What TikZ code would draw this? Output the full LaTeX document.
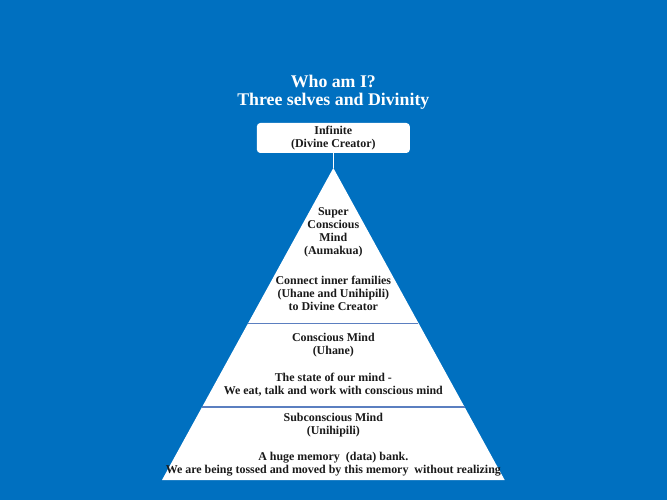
\documentclass[tikz,border=0pt]{standalone}
\usepackage{fontspec}
\setmainfont{Liberation Serif}
\usetikzlibrary{positioning,calc}
\definecolor{SlideBlue}{HTML}{0070C0}
\definecolor{LayerLine}{HTML}{5B7FC0}
\definecolor{InkDark}{HTML}{1A1A1A}

\begin{document}
\begin{tikzpicture}[
    font=\bfseries\fontsize{10.2}{11.1}\selectfont,
    label/.style={text=InkDark, align=center, inner sep=1pt},
    divider/.style={draw=LayerLine, line width=0.9pt}
]

  % =========================================================================
  % FUNDO
  % =========================================================================
  \fill[SlideBlue] (0,0) rectangle (20.01,15);
  \useasboundingbox (0,0) rectangle (20.01,15);

  % =========================================================================
  % TITULO
  % =========================================================================
  \node[text=white, align=center, font=\bfseries\fontsize{15.2}{15.4}\selectfont] (n_title) at (10.0, 12.24) {Who am I?\\Three selves and Divinity};

  % Caixa superior
  \node[fill=white, rounded corners=3pt, minimum width=4.59cm, minimum height=0.9cm, label] (n_inf) at (10.0, 10.86) {Infinite\\(Divine Creator)};

  % =========================================================================
  % PIRAMIDE
  % =========================================================================
  \coordinate (apex) at (10.0, 9.96);
  \coordinate (bl) at (4.86, 0.6);
  \coordinate (br) at (15.14, 0.6);
  \fill[white] (apex) -- (bl) -- (br) -- cycle;

  \draw[white, line width=1pt] (n_inf.south) -- (apex);

  % Linhas das camadas
  \draw[divider] ($(apex)!0.497!(bl)$) -- ($(apex)!0.497!(br)$);
  \draw[divider] ($(apex)!0.766!(bl)$) -- ($(apex)!0.766!(br)$);

  % Camada superior
  \node[label] (t_super) at (10.0, 8.04) {Super\\Conscious\\Mind\\(Aumakua)};
  \node[label] (t_connect) at (10.0, 6.2) {Connect inner families\\(Uhane and Unihipili)\\to Divine Creator};

  % Camada do meio
  \node[label] (t_cons) at (10.0, 4.65) {Conscious Mind\\(Uhane)};
  \node[label] (t_state) at (10.0, 3.465) {The state of our mind -\\We eat, talk and work with conscious mind};

  % Camada inferior
  \node[label] (t_sub) at (10.0, 2.25) {Subconscious Mind\\(Unihipili)};
  \node[label] (t_bank) at (10.0, 1.065) {A huge memory\ \ (data) bank.\\We are being tossed and moved by this memory\ \ without realizing};

\end{tikzpicture}
\end{document}
